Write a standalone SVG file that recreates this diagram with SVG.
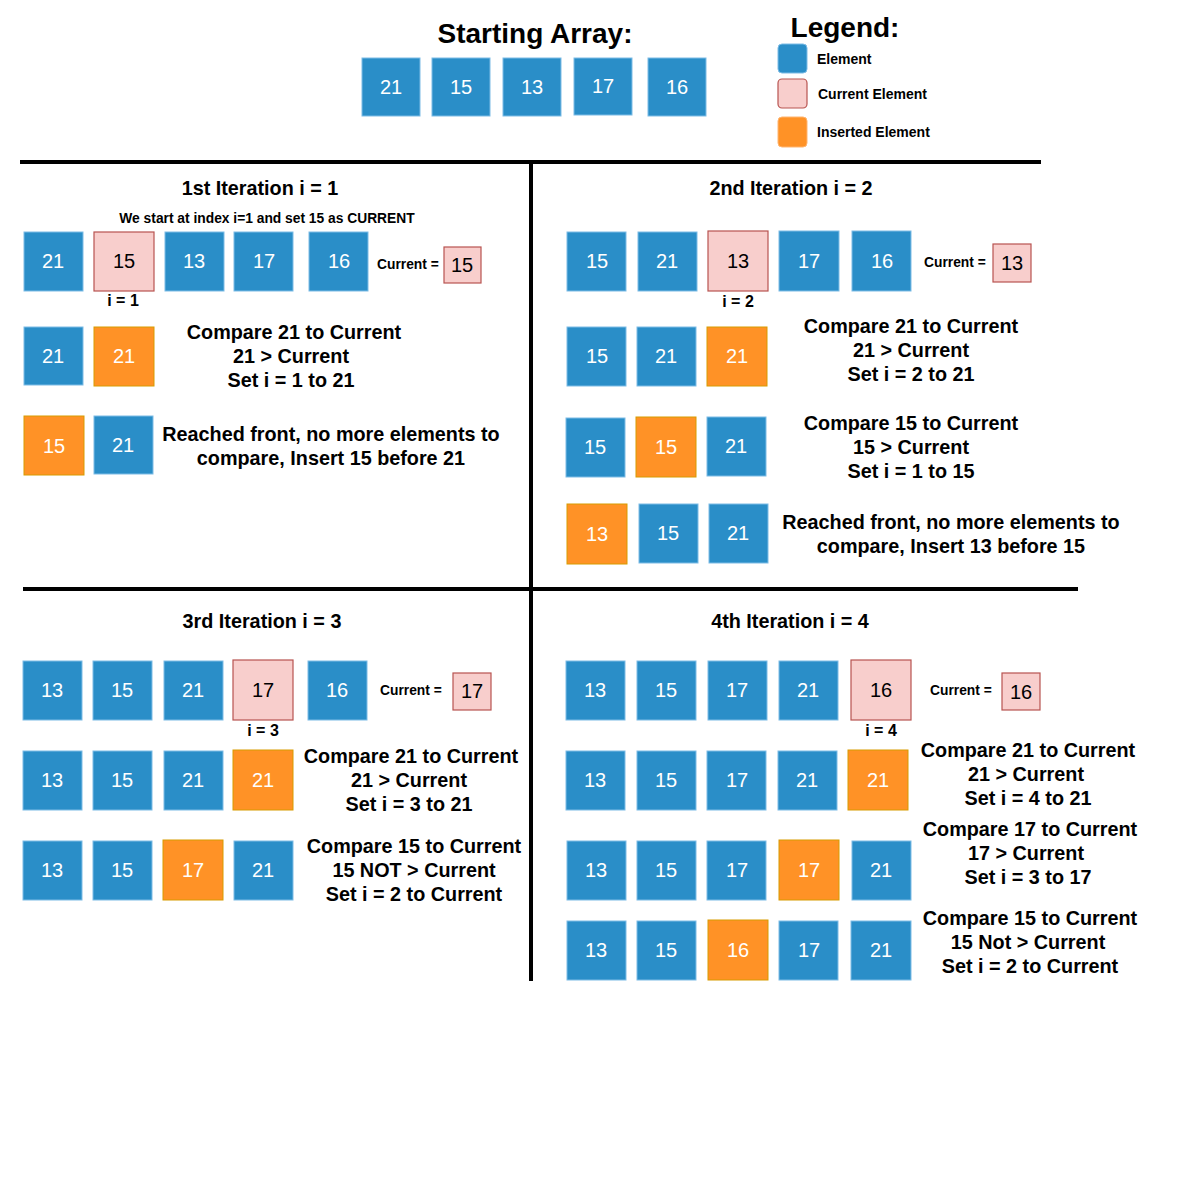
<svg xmlns="http://www.w3.org/2000/svg" width="1190" height="1179" viewBox="0 0 1190 1179">
<style>
text{font-family:"Liberation Sans",Arial,sans-serif;}
.e{fill:#2A8EC8;stroke:#7DBCE6;stroke-width:1;}
.c{fill:#F8CECC;stroke:#B85450;stroke-width:1.2;}
.o{fill:#FF9226;stroke:#D79B00;stroke-width:1;}
.n{font-size:20px;fill:#fff;text-anchor:middle;dominant-baseline:central;}
.nb{font-size:20px;fill:#000;text-anchor:middle;dominant-baseline:central;}
.h{font-size:28px;font-weight:bold;text-anchor:middle;}
.t{font-size:19.8px;font-weight:bold;text-anchor:middle;}
.s{font-size:13.8px;font-weight:bold;}
.sm{font-size:14px;font-weight:bold;}
.lbl{font-size:16px;font-weight:bold;text-anchor:middle;}
.div{stroke:#000;stroke-width:4;}
</style>
<rect width="1190" height="1179" fill="#fff"/>

<g id="dividers">
<line class="div" x1="20" y1="162" x2="1041" y2="162"/>
<line class="div" x1="531" y1="162" x2="531" y2="981"/>
<line class="div" x1="23" y1="589" x2="1078" y2="589"/>
</g>

<g id="start">
<text class="h" x="535" y="43">Starting Array:</text>
<rect class="e" x="362" y="58" width="58" height="58"/><text class="n" x="391" y="87">21</text>
<rect class="e" x="432" y="58" width="58" height="58"/><text class="n" x="461" y="87">15</text>
<rect class="e" x="503" y="58" width="58" height="58"/><text class="n" x="532" y="87">13</text>
<rect class="e" x="574" y="58" width="58" height="57"/><text class="n" x="603" y="86">17</text>
<rect class="e" x="648" y="58" width="58" height="58"/><text class="n" x="677" y="87">16</text>
</g>

<g id="legend">
<text class="h" x="845" y="37">Legend:</text>
<rect class="e" x="778" y="44" width="29" height="29" rx="4"/>
<text class="sm" x="817" y="64">Element</text>
<rect class="c" x="778" y="79" width="29" height="29" rx="4"/>
<text class="sm" x="818" y="99">Current Element</text>
<rect x="778" y="117" width="29" height="30" rx="4" fill="#FF9226" stroke="#FFB570"/>
<text class="sm" x="817" y="137">Inserted Element</text>
</g>

<g id="iter1">
<text class="t" x="260" y="195">1st Iteration i = 1</text>
<text class="s" x="267" y="223" text-anchor="middle">We start at index i=1 and set 15 as CURRENT</text>
<rect class="e" x="24" y="232" width="59" height="59"/><text class="n" x="53" y="261">21</text>
<rect class="c" x="94" y="232" width="60" height="59"/><text class="nb" x="124" y="261">15</text>
<rect class="e" x="165" y="232" width="59" height="59"/><text class="n" x="194" y="261">13</text>
<rect class="e" x="234" y="232" width="59" height="59"/><text class="n" x="264" y="261">17</text>
<rect class="e" x="309" y="232" width="59" height="59"/><text class="n" x="339" y="261">16</text>
<text class="lbl" x="123" y="306">i = 1</text>
<text class="s" x="377" y="269">Current =</text>
<rect class="c" x="444" y="247" width="37" height="36"/><text class="nb" x="462" y="265">15</text>

<rect class="e" x="24" y="327" width="59" height="58"/><text class="n" x="53" y="356">21</text>
<rect class="o" x="94" y="327" width="60" height="59"/><text class="n" x="124" y="356">21</text>
<text class="t" x="294" y="339">Compare 21 to Current</text>
<text class="t" x="291" y="363">21 &gt; Current</text>
<text class="t" x="291" y="387">Set i = 1 to 21</text>

<rect class="o" x="24" y="416" width="60" height="59"/><text class="n" x="54" y="446">15</text>
<rect class="e" x="94" y="416" width="59" height="58"/><text class="n" x="123" y="445">21</text>
<text class="t" x="331" y="441">Reached front, no more elements to</text>
<text class="t" x="331" y="465">compare, Insert 15 before 21</text>
</g>

<g id="iter2">
<text class="t" x="791" y="195">2nd Iteration i = 2</text>
<rect class="e" x="567" y="232" width="59" height="59"/><text class="n" x="597" y="261">15</text>
<rect class="e" x="638" y="232" width="59" height="59"/><text class="n" x="667" y="261">21</text>
<rect class="c" x="708" y="231" width="60" height="60"/><text class="nb" x="738" y="261">13</text>
<rect class="e" x="779" y="231" width="60" height="60"/><text class="n" x="809" y="261">17</text>
<rect class="e" x="852" y="231" width="59" height="60"/><text class="n" x="882" y="261">16</text>
<text class="lbl" x="738" y="307">i = 2</text>
<text class="s" x="924" y="267">Current =</text>
<rect class="c" x="993" y="244" width="38" height="38"/><text class="nb" x="1012" y="263">13</text>

<rect class="e" x="567" y="327" width="59" height="59"/><text class="n" x="597" y="356">15</text>
<rect class="e" x="637" y="327" width="59" height="59"/><text class="n" x="666" y="356">21</text>
<rect class="o" x="707" y="327" width="60" height="59"/><text class="n" x="737" y="356">21</text>
<text class="t" x="911" y="333">Compare 21 to Current</text>
<text class="t" x="911" y="357">21 &gt; Current</text>
<text class="t" x="911" y="381">Set i = 2 to 21</text>

<rect class="e" x="566" y="418" width="59" height="59"/><text class="n" x="595" y="447">15</text>
<rect class="o" x="636" y="417" width="60" height="60"/><text class="n" x="666" y="447">15</text>
<rect class="e" x="707" y="417" width="59" height="59"/><text class="n" x="736" y="446">21</text>
<text class="t" x="911" y="430">Compare 15 to Current</text>
<text class="t" x="911" y="454">15 &gt; Current</text>
<text class="t" x="911" y="478">Set i = 1 to 15</text>

<rect class="o" x="567" y="504" width="60" height="60"/><text class="n" x="597" y="534">13</text>
<rect class="e" x="639" y="504" width="59" height="59"/><text class="n" x="668" y="533">15</text>
<rect class="e" x="709" y="504" width="59" height="59"/><text class="n" x="738" y="533">21</text>
<text class="t" x="951" y="529">Reached front, no more elements to</text>
<text class="t" x="951" y="553">compare, Insert 13 before 15</text>
</g>

<g id="iter3">
<text class="t" x="262" y="628">3rd Iteration i = 3</text>
<rect class="e" x="23" y="661" width="59" height="59"/><text class="n" x="52" y="690">13</text>
<rect class="e" x="93" y="661" width="59" height="59"/><text class="n" x="122" y="690">15</text>
<rect class="e" x="164" y="661" width="59" height="59"/><text class="n" x="193" y="690">21</text>
<rect class="c" x="233" y="660" width="60" height="60"/><text class="nb" x="263" y="690">17</text>
<rect class="e" x="308" y="661" width="59" height="59"/><text class="n" x="337" y="690">16</text>
<text class="lbl" x="263" y="736">i = 3</text>
<text class="s" x="380" y="695">Current =</text>
<rect class="c" x="453" y="673" width="38" height="37"/><text class="nb" x="472" y="691">17</text>

<rect class="e" x="23" y="751" width="59" height="59"/><text class="n" x="52" y="780">13</text>
<rect class="e" x="93" y="751" width="59" height="59"/><text class="n" x="122" y="780">15</text>
<rect class="e" x="164" y="751" width="59" height="59"/><text class="n" x="193" y="780">21</text>
<rect class="o" x="233" y="750" width="60" height="60"/><text class="n" x="263" y="780">21</text>
<text class="t" x="411" y="763">Compare 21 to Current</text>
<text class="t" x="409" y="787">21 &gt; Current</text>
<text class="t" x="409" y="811">Set i = 3 to 21</text>

<rect class="e" x="23" y="841" width="59" height="59"/><text class="n" x="52" y="870">13</text>
<rect class="e" x="93" y="841" width="59" height="59"/><text class="n" x="122" y="870">15</text>
<rect class="o" x="163" y="840" width="60" height="60"/><text class="n" x="193" y="870">17</text>
<rect class="e" x="234" y="841" width="59" height="59"/><text class="n" x="263" y="870">21</text>
<text class="t" x="414" y="853">Compare 15 to Current</text>
<text class="t" x="414" y="877">15 NOT &gt; Current</text>
<text class="t" x="414" y="901">Set i = 2 to Current</text>
</g>

<g id="iter4">
<text class="t" x="790" y="628">4th Iteration i = 4</text>
<rect class="e" x="566" y="661" width="59" height="59"/><text class="n" x="595" y="690">13</text>
<rect class="e" x="637" y="661" width="59" height="59"/><text class="n" x="666" y="690">15</text>
<rect class="e" x="708" y="661" width="59" height="59"/><text class="n" x="737" y="690">17</text>
<rect class="e" x="779" y="661" width="59" height="59"/><text class="n" x="808" y="690">21</text>
<rect class="c" x="851" y="660" width="60" height="60"/><text class="nb" x="881" y="690">16</text>
<text class="lbl" x="881" y="736">i = 4</text>
<text class="s" x="930" y="695">Current =</text>
<rect class="c" x="1002" y="673" width="38" height="37"/><text class="nb" x="1021" y="692">16</text>

<rect class="e" x="566" y="751" width="59" height="59"/><text class="n" x="595" y="780">13</text>
<rect class="e" x="637" y="751" width="59" height="59"/><text class="n" x="666" y="780">15</text>
<rect class="e" x="707" y="751" width="59" height="59"/><text class="n" x="737" y="780">17</text>
<rect class="e" x="778" y="751" width="59" height="59"/><text class="n" x="807" y="780">21</text>
<rect class="o" x="848" y="750" width="60" height="60"/><text class="n" x="878" y="780">21</text>
<text class="t" x="1028" y="757">Compare 21 to Current</text>
<text class="t" x="1026" y="781">21 &gt; Current</text>
<text class="t" x="1028" y="805">Set i = 4 to 21</text>

<rect class="e" x="567" y="841" width="59" height="59"/><text class="n" x="596" y="870">13</text>
<rect class="e" x="637" y="841" width="59" height="59"/><text class="n" x="666" y="870">15</text>
<rect class="e" x="707" y="841" width="59" height="59"/><text class="n" x="737" y="870">17</text>
<rect class="o" x="779" y="840" width="60" height="60"/><text class="n" x="809" y="870">17</text>
<rect class="e" x="852" y="841" width="59" height="59"/><text class="n" x="881" y="870">21</text>
<text class="t" x="1030" y="836">Compare 17 to Current</text>
<text class="t" x="1026" y="860">17 &gt; Current</text>
<text class="t" x="1028" y="884">Set i = 3 to 17</text>

<rect class="e" x="567" y="921" width="59" height="59"/><text class="n" x="596" y="950">13</text>
<rect class="e" x="637" y="921" width="59" height="59"/><text class="n" x="666" y="950">15</text>
<rect class="o" x="708" y="920" width="60" height="60"/><text class="n" x="738" y="950">16</text>
<rect class="e" x="779" y="921" width="59" height="59"/><text class="n" x="809" y="950">17</text>
<rect class="e" x="851" y="921" width="60" height="59"/><text class="n" x="881" y="950">21</text>
<text class="t" x="1030" y="925">Compare 15 to Current</text>
<text class="t" x="1028" y="949">15 Not &gt; Current</text>
<text class="t" x="1030" y="973">Set i = 2 to Current</text>
</g>
</svg>
